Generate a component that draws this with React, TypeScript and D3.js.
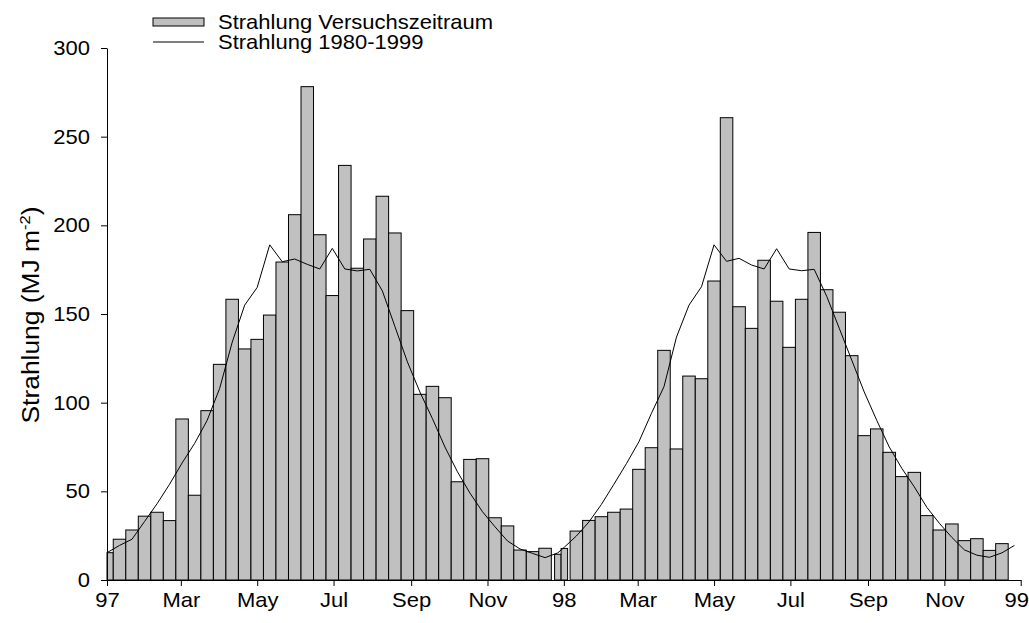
import * as d3 from "d3";
import { useEffect, useRef } from "react";

// measurement periods: day offsets from 1 Jan 1997 (start / end of each bar)
const barStartDay = [
  0, 5, 15, 25, 35, 45, 55, 65, 75, 85, 95, 105, 115, 125, 135, 145, 155, 165,
  175, 185, 195, 205, 215, 225, 235, 245, 255, 265, 275, 285, 295, 305, 315,
  325, 335, 345, 357.6, 362.8,
  370, 380, 390, 400, 410, 420, 430, 440, 450, 460, 470, 480, 490, 500, 510,
  520, 530, 540, 550, 560, 570, 580, 590, 600, 610, 620, 630, 640, 650, 660,
  670, 680, 690, 700, 710,
];
const barEndDay = [
  5, 15, 25, 35, 45, 55, 65, 75, 85, 95, 105, 115, 125, 135, 145, 155, 165,
  175, 185, 195, 205, 215, 225, 235, 245, 255, 265, 275, 285, 295, 305, 315,
  325, 335, 345, 355, 362.8, 368,
  380, 390, 400, 410, 420, 430, 440, 450, 460, 470, 480, 490, 500, 510, 520,
  530, 540, 550, 560, 570, 580, 590, 600, 610, 620, 630, 640, 650, 660, 670,
  680, 690, 700, 710, 720,
];
// Strahlung Versuchszeitraum (MJ m-2)
const radiationTrial = [
  15.4, 23, 28.2, 36, 38.2, 33.5, 90.8, 47.8, 95.5, 121.6, 158.3, 130.3, 135.7,
  149.4, 179.3, 206, 278.2, 194.7, 160.4, 233.8, 175.8, 192.3, 216.4, 195.7,
  151.9, 104.7, 109.2, 102.8, 55.4, 68, 68.4, 35.1, 30.5, 16.9, 16, 17.9, 14.5,
  17.8,
  27.6, 33.6, 35.7, 38.2, 40, 62.4, 74.6, 129.5, 73.9, 115, 113.5, 168.6,
  260.7, 154.1, 141.9, 180.3, 157.2, 131.2, 158.3, 196, 163.7, 151, 126.5,
  81.4, 85.2, 72, 58.3, 60.7, 36.3, 28.2, 31.6, 22.2, 23.3, 16.7, 20.5,
];

// Strahlung 1980-1999 (long-term mean), day offsets from 1 Jan 1997
const meanDay = [
  0, 10, 20, 30, 40, 50, 60, 70, 80, 90, 100, 110, 120, 130, 140, 150, 160,
  170, 180, 190, 200, 210, 220, 230, 240, 250, 260, 270, 280, 290, 300, 310,
  320, 330, 340, 350, 360.2, 365.4,
  375, 385, 395, 405, 415, 425, 435, 445, 455, 465, 475, 485, 495, 505, 515,
  525, 535, 545, 555, 565, 575, 585, 595, 605, 615, 625, 635, 645, 655, 665,
  675, 685, 695, 705, 715, 725,
];
const radiationMean = [
  15.4, 19.5, 23, 33, 43, 54, 66, 77, 90, 108, 134, 155, 165, 189, 179.5, 181,
  178, 175.4, 187, 175.4, 174.3, 175.2, 163, 143, 123, 106, 91, 75, 61, 49,
  38.5, 30, 22, 17.5, 15, 12.6, 15.3, 18.5,
  24.8, 32.7, 42.6, 54, 65.6, 78, 94, 109, 137, 155, 165.4, 189, 179.7, 181.4,
  177.6, 175.4, 186.8, 175.4, 174.4, 175.2, 160, 142, 124, 106, 90, 75, 63,
  52.5, 41, 32, 24, 17, 14, 12.8, 15.3, 19.5,
];

const yTicks = [0, 50, 100, 150, 200, 250, 300];
const xTickLabels = ["97", "Mar", "May", "Jul", "Sep", "Nov", "98", "Mar", "May", "Jul", "Sep", "Nov", "99"];

const legendLabels = ["Strahlung Versuchszeitraum", "Strahlung 1980-1999"];

const FONT = "'Liberation Sans', Arial, sans-serif";
const STRETCH = 1.1; // the original lettering is a little wider than Arial
const dayMs = 864e5;
const t0 = Date.UTC(1997, 0, 1);
const toDate = (d: number) => new Date(t0 + d * dayMs);

export default function App() {
  const ref = useRef<SVGSVGElement>(null);

  useEffect(() => {
    const width = 1029;
    const height = 623;
    const margin = { top: 48, right: 8, bottom: 43, left: 107 };

    const svg = d3.select(ref.current);
    svg.selectAll("*").remove();
    svg.attr("width", width).attr("height", height);

    const x = d3
      .scaleUtc()
      .domain([new Date(Date.UTC(1997, 0, 1)), new Date(Date.UTC(1999, 0, 1))])
      .range([margin.left, 1020.7]);
    const y = d3
      .scaleLinear()
      .domain([0, 300])
      .range([height - margin.bottom, margin.top]);

    // bars
    svg
      .append("g")
      .selectAll("rect")
      .data(radiationTrial)
      .join("rect")
      .attr("x", (_, i) => x(toDate(barStartDay[i])))
      .attr("width", (_, i) => x(toDate(barEndDay[i])) - x(toDate(barStartDay[i])))
      .attr("y", (d) => y(d))
      .attr("height", (d) => y(0) - y(d))
      .attr("fill", "#c0c0c0")
      .attr("stroke", "#000")
      .attr("stroke-width", 1);

    // long-term mean line
    const line = d3
      .line<number>()
      .x((_, i) => x(toDate(meanDay[i])))
      .y((d) => y(d));
    svg
      .append("path")
      .datum(radiationMean)
      .attr("d", line)
      .attr("fill", "none")
      .attr("stroke", "#000")
      .attr("stroke-width", 1);

    // axes
    const tickDates = d3.utcMonth.every(2)!.range(
      new Date(Date.UTC(1997, 0, 1)),
      new Date(Date.UTC(1999, 0, 2))
    );
    const xAxis = svg
      .append("g")
      .attr("transform", `translate(0,${y(0)})`)
      .call(
        d3
          .axisBottom(x)
          .tickValues(tickDates)
          .tickFormat((_, i) => xTickLabels[i])
          .tickSize(6)
          .tickSizeOuter(0)
          .tickPadding(7)
      );
    const yAxis = svg
      .append("g")
      .attr("transform", `translate(${margin.left},0)`)
      .call(
        d3
          .axisLeft(y)
          .tickValues(yTicks)
          .tickSize(6)
          .tickSizeOuter(0)
          .tickPadding(17 / STRETCH - 6)
      );
    [xAxis, yAxis].forEach((g) => {
      g.selectAll("text")
        .attr("font-family", FONT)
        .attr("font-size", 20)
        .attr("fill", "#000")
        .attr("transform", `scale(${STRETCH},1)`);
      g.selectAll("line,path").attr("stroke", "#000");
    });
    // keep the last label ("99") inside the page
    xAxis
      .selectAll<SVGTextElement, Date>("text")
      .filter((_, i, n) => i === n.length - 1)
      .attr("dx", -4);

    // y label
    const yl = svg
      .append("text")
      .attr(
        "transform",
        `translate(38.5,${(y(0) + y(300)) / 2 + 1}) rotate(-90) scale(${STRETCH},1)`
      )
      .attr("text-anchor", "middle")
      .attr("font-family", FONT)
      .attr("font-size", 24)
      .attr("fill", "#000");
    yl.append("tspan").text("Strahlung (MJ m");
    yl.append("tspan").attr("font-size", 15).attr("dy", -9).text("-2");
    yl.append("tspan").attr("dy", 9).text(")");

    // legend
    const legend = svg.append("g").attr("font-family", FONT).attr("font-size", 20);
    legend
      .append("rect")
      .attr("x", 153)
      .attr("y", 18)
      .attr("width", 51)
      .attr("height", 8)
      .attr("fill", "#c0c0c0")
      .attr("stroke", "#000");
    legend
      .append("line")
      .attr("x1", 153)
      .attr("x2", 204)
      .attr("y1", 42)
      .attr("y2", 42)
      .attr("stroke", "#000");
    legend
      .selectAll("text")
      .data(legendLabels)
      .join("text")
      .attr("transform", `scale(${STRETCH},1)`)
      .attr("x", 218 / STRETCH)
      .attr("y", (_, i) => 29.3 + i * 20)
      .text((d) => d);
  }, []);

  return (
    <svg
      ref={ref}
      style={{ position: "absolute", left: 0, top: 0, background: "#fff" }}
    />
  );
}
